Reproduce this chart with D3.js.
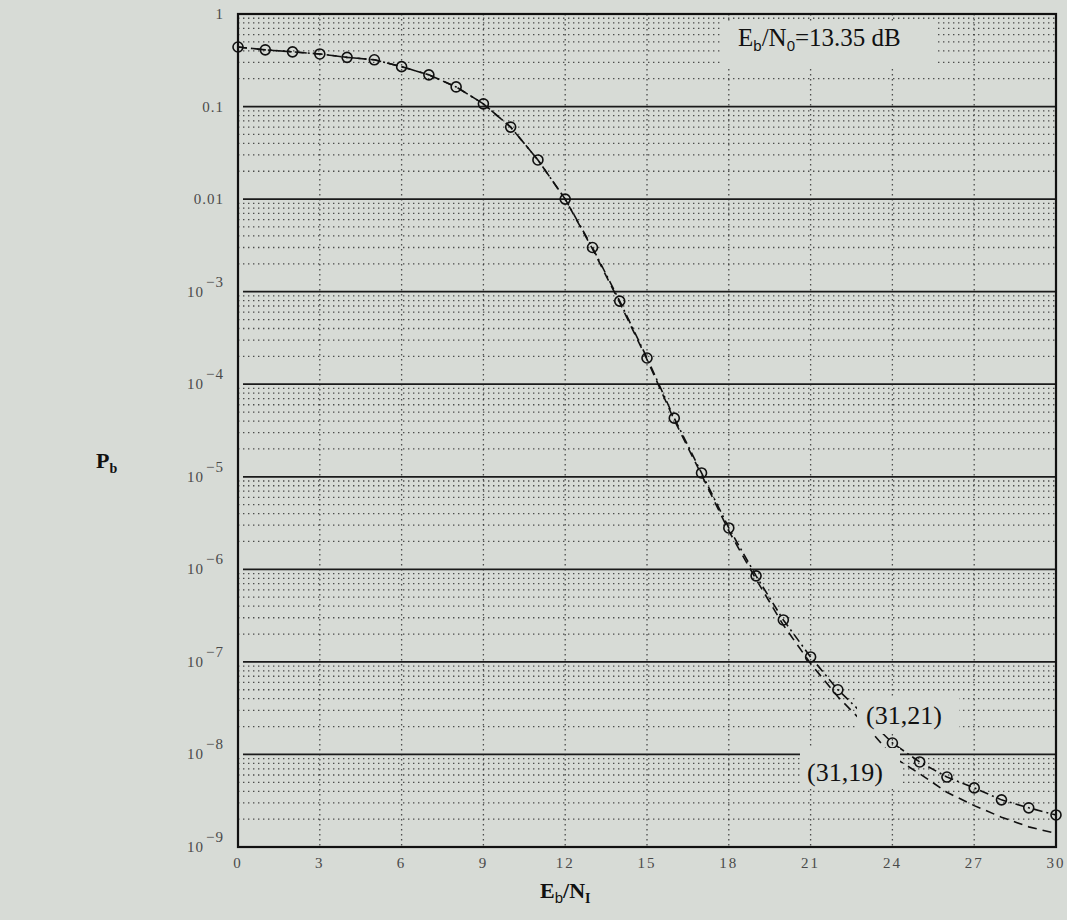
<!DOCTYPE html>
<html>
<head>
<meta charset="utf-8">
<script src="https://cdn.jsdelivr.net/npm/d3@7"></script>
<style>
  html, body { margin: 0; padding: 0; background: #d7dbd6; }
  svg { display: block; font-family: "Liberation Serif", "Times New Roman", serif; }
</style>
</head>
<body>
<svg id="chart" width="1067" height="920"></svg>
<script>
// Signal-to-interference ratio Eb/NI in dB
const ebniDb = [0, 1, 2, 3, 4, 5, 6, 7, 8, 9, 10, 11, 12, 13, 14, 15,
                16, 17, 18, 19, 20, 21, 22, 23, 24, 25, 26, 27, 28, 29, 30];

// Bit error probability, (31,21) code
const pb3121 = [0.44, 0.41, 0.39, 0.37, 0.34, 0.32, 0.27, 0.22, 0.163, 0.107,
                0.060, 0.0265, 0.0100, 3.0e-3, 7.9e-4, 1.92e-4, 4.3e-5, 1.1e-5,
                2.8e-6, 8.5e-7, 2.84e-7, 1.13e-7, 5.0e-8, 2.6e-8, 1.33e-8,
                8.3e-9, 5.7e-9, 4.35e-9, 3.23e-9, 2.65e-9, 2.22e-9];

// Bit error probability, (31,19) code
const pb3119 = [0.44, 0.41, 0.39, 0.37, 0.34, 0.32, 0.27, 0.22, 0.163, 0.107,
                0.060, 0.0265, 0.0100, 2.9e-3, 7.6e-4, 1.85e-4, 4.1e-5, 1.05e-5,
                2.6e-6, 7.8e-7, 2.5e-7, 9.6e-8, 4.2e-8, 2.1e-8, 9.5e-9,
                6.2e-9, 3.9e-9, 2.8e-9, 2.1e-9, 1.65e-9, 1.4e-9];

const xTickValues = [0, 3, 6, 9, 12, 15, 18, 21, 24, 27, 30];
const yTickValues = [1, 0.1, 0.01, 1e-3, 1e-4, 1e-5, 1e-6, 1e-7, 1e-8, 1e-9];
const yTickBase   = ["1", "0.1", "0.01", "10", "10", "10", "10", "10", "10", "10"];
const yTickExp    = ["", "", "", "\u22123", "\u22124", "\u22125", "\u22126", "\u22127", "\u22128", "\u22129"];

const BG = "#d7dbd6";
const svg = d3.select("#chart");

const x = d3.scaleLinear().domain([0, 30]).range([238, 1056]);
const y = d3.scaleLog().domain([1e-9, 1]).range([847, 14]);

const [x0, x1] = x.range();
const [yb, yt] = y.range();

// Minor (dotted) horizontal grid: 2..9 within each decade
const minorY = y.ticks().filter(v => Math.abs(Math.log10(v) - Math.round(Math.log10(v))) > 1e-6);
svg.append("g").selectAll("line").data(minorY).join("line")
  .attr("x1", x0).attr("x2", x1)
  .attr("y1", d => y(d)).attr("y2", d => y(d))
  .attr("stroke", "#2a2a2a").attr("stroke-width", 1.3)
  .attr("stroke-dasharray", "1.4,3.6").attr("opacity", 0.8);

// Vertical dotted grid at the x ticks
svg.append("g").selectAll("line").data(xTickValues.slice(1, -1)).join("line")
  .attr("x1", d => x(d)).attr("x2", d => x(d))
  .attr("y1", yt).attr("y2", yb)
  .attr("stroke", "#2a2a2a").attr("stroke-width", 1.3)
  .attr("stroke-dasharray", "1.4,3.6").attr("opacity", 0.8);

// Decade lines (solid)
svg.append("g").selectAll("line").data(yTickValues.slice(1, -1)).join("line")
  .attr("x1", x0 + 5).attr("x2", x1)
  .attr("y1", d => y(d)).attr("y2", d => y(d))
  .attr("stroke", "#1a1a1a").attr("stroke-width", 1.8);

// Curves
const line = d3.line().x((d, i) => x(ebniDb[i])).y(d => y(d));

svg.append("path").datum(pb3119)
  .attr("d", line).attr("fill", "none")
  .attr("stroke", "#111").attr("stroke-width", 1.6)
  .attr("stroke-dasharray", "9,6");

svg.append("path").datum(pb3121)
  .attr("d", line).attr("fill", "none")
  .attr("stroke", "#111").attr("stroke-width", 1.6)
  .attr("stroke-dasharray", "9,4,2,4");

svg.append("g").selectAll("circle").data(pb3121).join("circle")
  .attr("cx", (d, i) => x(ebniDb[i])).attr("cy", d => y(d))
  .attr("r", 5).attr("fill", "none")
  .attr("stroke", "#111").attr("stroke-width", 1.6);

// Text boxes that blank out the grid behind them
function labelBox(bx, by, bw, bh) {
  svg.append("rect").attr("x", bx).attr("y", by).attr("width", bw).attr("height", bh)
    .attr("fill", BG);
}

labelBox(722, 22, 216, 44);
const ann = svg.append("text").attr("x", 738).attr("y", 46)
  .attr("font-size", 25).attr("fill", "#111");
ann.append("tspan").text("E");
ann.append("tspan").attr("font-family", "Liberation Sans, Arial, sans-serif")
  .attr("font-size", 15).attr("dy", 5).text("b");
ann.append("tspan").attr("dy", -5).text("/N");
ann.append("tspan").attr("font-family", "Liberation Sans, Arial, sans-serif")
  .attr("font-size", 15).attr("dy", 5).text("0");
ann.append("tspan").attr("dy", -5).text("=13.35 dB");

labelBox(857, 698, 102, 36);
svg.append("text").attr("x", 866).attr("y", 724)
  .attr("font-size", 26).attr("fill", "#111").text("(31,21)");

labelBox(800, 748, 100, 40);
svg.append("text").attr("x", 807).attr("y", 781)
  .attr("font-size", 26).attr("fill", "#111").text("(31,19)");

// Frame
svg.append("rect").attr("x", x0).attr("y", yt)
  .attr("width", x1 - x0).attr("height", yb - yt)
  .attr("fill", "none").attr("stroke", "#111").attr("stroke-width", 2.2);

// Y tick labels
const yLab = svg.append("g").attr("fill", "#4a4a4a").attr("font-size", 15);
yTickValues.forEach((v, i) => {
  const t = yLab.append("text").attr("text-anchor", "end")
    .attr("x", 224).attr("y", y(v) + 5).attr("letter-spacing", 1);
  t.append("tspan").text(yTickBase[i]);
  if (yTickExp[i]) {
    t.append("tspan").attr("dy", -10).attr("dx", 2).text(yTickExp[i]);
  }
});

// X tick labels
svg.append("g").attr("fill", "#4a4a4a").attr("font-size", 15)
  .selectAll("text").data(xTickValues).join("text")
  .attr("x", d => x(d)).attr("y", 868).attr("text-anchor", "middle")
  .attr("letter-spacing", 2).text(d => d);

// Axis titles
const yTitle = svg.append("text").attr("x", 96).attr("y", 468)
  .attr("font-size", 22).attr("font-weight", "bold").attr("fill", "#111");
yTitle.append("tspan").text("P");
yTitle.append("tspan").attr("font-size", 14).attr("dy", 5).text("b");

const xTitle = svg.append("text").attr("x", 540).attr("y", 898)
  .attr("font-size", 22).attr("font-weight", "bold").attr("fill", "#111");
xTitle.append("tspan").text("E");
xTitle.append("tspan").attr("font-family", "Liberation Sans, Arial, sans-serif")
  .attr("font-weight", "normal").attr("font-size", 15).attr("dy", 5).text("b");
xTitle.append("tspan").attr("dy", -5).text("/N");
xTitle.append("tspan").attr("font-size", 14).attr("dy", 5).text("I");
</script>
</body>
</html>
